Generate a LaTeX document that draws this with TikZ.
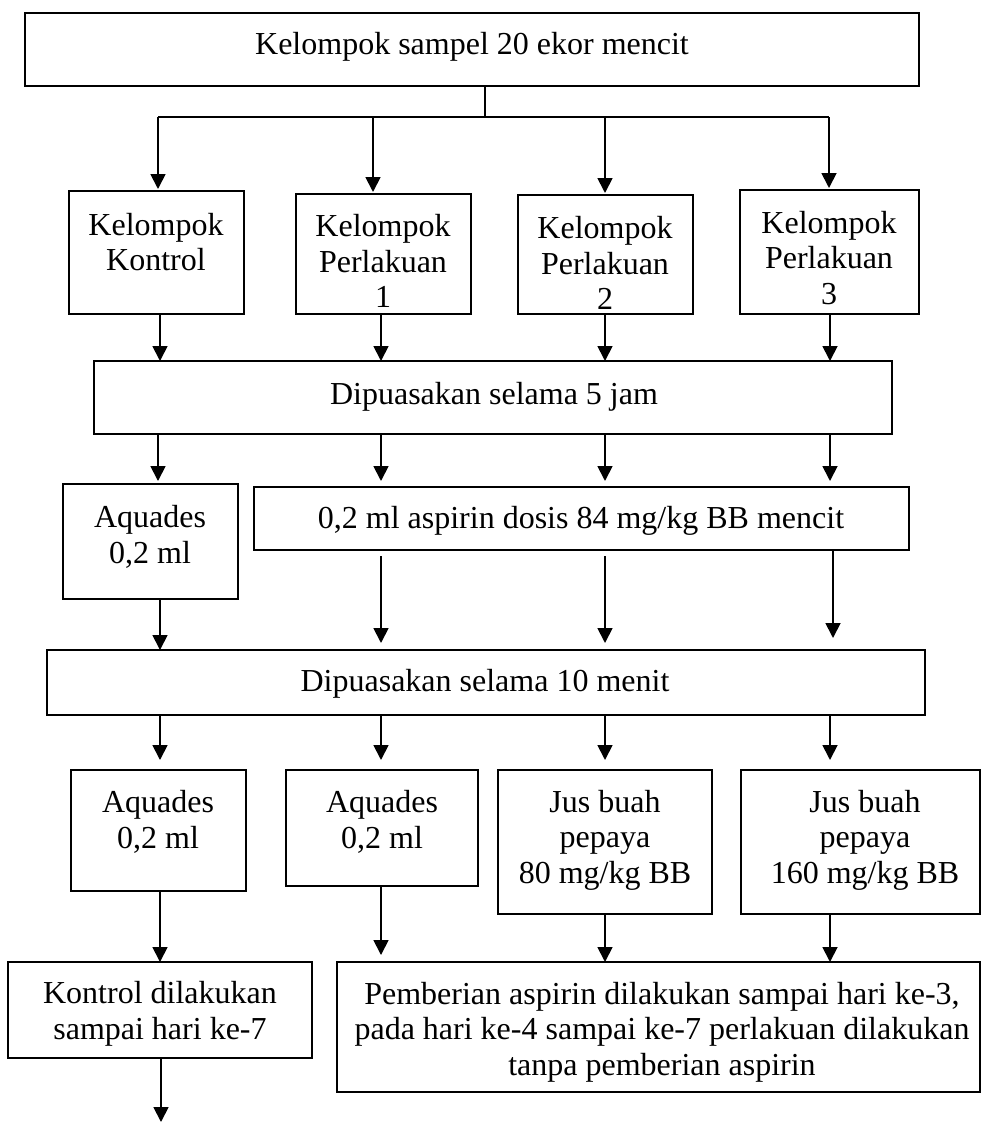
\documentclass[tikz,border=0pt]{standalone}
\usepackage{fontspec}
\setmainfont{Liberation Serif}
\usetikzlibrary{arrows.meta}
\begin{document}
\begin{tikzpicture}[x=1pt,y=-1pt,
  box/.style={draw, line width=1.8pt, inner sep=0pt, outer sep=0pt},
  txt/.style={align=center, inner sep=0pt, font=\fontsize{32}{35.5}\selectfont},
  link/.style={line width=1.8pt},
  arr/.style={line width=1.8pt, -{Triangle[length=15pt,width=15pt]}}]
\useasboundingbox (0,0) rectangle (982,1122);
% column coordinates
\coordinate (xA) at (160,0);
\coordinate (xA2) at (158,0);
\coordinate (xB) at (381,0);
\coordinate (xC) at (605,0);
\coordinate (xD) at (830,0);
% top
\node[box, minimum width=894pt, minimum height=73pt] (top) at (472,49.5) {};
\node[txt] (ttop) at (472,47) {Kelompok sampel 20 ekor mencit};
\coordinate (jn) at (485,117);
\coordinate (b0) at (158,117);
\coordinate (b1) at (373,117);
\coordinate (b2) at (605,117);
\coordinate (b3) at (829,117);
% row 1
\node[box, minimum width=175pt, minimum height=123pt] (k0) at (156.5,252.5) {};
\node[box, minimum width=175pt, minimum height=120pt] (k1) at (383.5,254) {};
\node[box, minimum width=175pt, minimum height=119pt] (k2) at (605.5,254.5) {};
\node[box, minimum width=179pt, minimum height=124pt] (k3) at (829.5,252) {};
\node[txt] (tk0) at (156,242) {Kelompok\\Kontrol};
\node[txt] (tk1) at (383,261) {Kelompok\\Perlakuan\\1};
\node[txt] (tk2) at (605,263) {Kelompok\\Perlakuan\\2};
\node[txt] (tk3) at (829,258) {Kelompok\\Perlakuan\\3};
% row 2
\node[box, minimum width=798pt, minimum height=73pt] (dip5) at (493,397.5) {};
\node[txt] (tdip5) at (494,397) {Dipuasakan selama 5 jam};
% row 3
\node[box, minimum width=175pt, minimum height=115pt] (aq0) at (150.5,541.5) {};
\node[txt] (taq0) at (150,537) {Aquades\\0,2 ml};
\node[box, minimum width=655pt, minimum height=63pt] (asp) at (581.5,518.5) {};
\node[txt] (tasp) at (581,521) {0,2 ml aspirin dosis 84 mg/kg BB mencit};
% row 4
\node[box, minimum width=878pt, minimum height=65pt] (dip10) at (486,682.5) {};
\node[txt] (tdip10) at (485,684) {Dipuasakan selama 10 menit};
% row 5
\node[box, minimum width=175pt, minimum height=121pt] (a1) at (158.5,830.5) {};
\node[box, minimum width=192pt, minimum height=116pt] (a2) at (382,828) {};
\node[box, minimum width=214pt, minimum height=144pt] (j1) at (605,842) {};
\node[box, minimum width=239pt, minimum height=144pt] (j2) at (860.5,842) {};
\node[txt] (ta1) at (158,822) {Aquades\\0,2 ml};
\node[txt] (ta2) at (382,822) {Aquades\\0,2 ml};
\node[txt] (tj1) at (605,840) {Jus buah\\pepaya\\80 mg/kg BB};
\node[txt] (tj2) at (865,840) {Jus buah\\pepaya\\160 mg/kg BB};
% row 6
\node[box, minimum width=304pt, minimum height=96pt] (kon) at (160,1010) {};
\node[txt] (tkon) at (160,1014) {Kontrol dilakukan\\sampai hari ke-7};
\node[box, minimum width=643pt, minimum height=130pt] (pem) at (658.5,1027) {};
\node[txt] (tpem) at (662,1032) {Pemberian aspirin dilakukan sampai hari ke-3,\\pada hari ke-4 sampai ke-7 perlakuan dilakukan\\tanpa pemberian aspirin};
\coordinate (endk) at (161,1122);
% connectors
\draw[link] (top.south -| jn) -- (jn);
\draw[link] (b0) -- (b3);
\draw[arr, shorten >=2pt] (b0) -- (b0 |- k0.north);
\draw[arr, shorten >=2pt] (b1) -- (b1 |- k1.north);
\draw[arr, shorten >=2pt] (b2) -- (b2 |- k2.north);
\draw[arr, shorten >=2pt] (b3) -- (b3 |- k3.north);
\draw[arr] (k0.south -| xA) -- (dip5.north -| xA);
\draw[arr] (k1.south -| xB) -- (dip5.north -| xB);
\draw[arr] (k2.south -| xC) -- (dip5.north -| xC);
\draw[arr] (k3.south -| xD) -- (dip5.north -| xD);
\draw[arr, shorten >=3pt] (dip5.south -| xA2) -- (aq0.north -| xA2);
\draw[arr, shorten >=6pt] (dip5.south -| xB) -- (asp.north -| xB);
\draw[arr, shorten >=6pt] (dip5.south -| xC) -- (asp.north -| xC);
\draw[arr, shorten >=6pt] (dip5.south -| xD) -- (asp.north -| xD);
\draw[arr] (aq0.south -| xA) -- (dip10.north -| xA);
\draw[arr, shorten <=6pt, shorten >=7pt] (asp.south -| xB) -- (dip10.north -| xB);
\draw[arr, shorten <=6pt, shorten >=7pt] (asp.south -| xC) -- (dip10.north -| xC);
\draw[arr, shorten <=1pt, shorten >=12pt] ([xshift=3pt]asp.south -| xD) -- ([xshift=3pt]dip10.north -| xD);
\draw[arr, shorten >=10pt] (dip10.south -| xA) -- (a1.north -| xA);
\draw[arr, shorten >=10pt] (dip10.south -| xB) -- (a2.north -| xB);
\draw[arr, shorten >=10pt] (dip10.south -| xC) -- (j1.north -| xC);
\draw[arr, shorten >=10pt] (dip10.south -| xD) -- (j2.north -| xD);
\draw[arr] (a1.south -| xA) -- (kon.north -| xA);
\draw[arr, shorten >=7pt] (a2.south -| xB) -- (pem.north -| xB);
\draw[arr] (j1.south -| xC) -- (pem.north -| xC);
\draw[arr] (j2.south -| xD) -- (pem.north -| xD);
\draw[arr] (kon.south -| endk) -- (endk);
\end{tikzpicture}
\end{document}
